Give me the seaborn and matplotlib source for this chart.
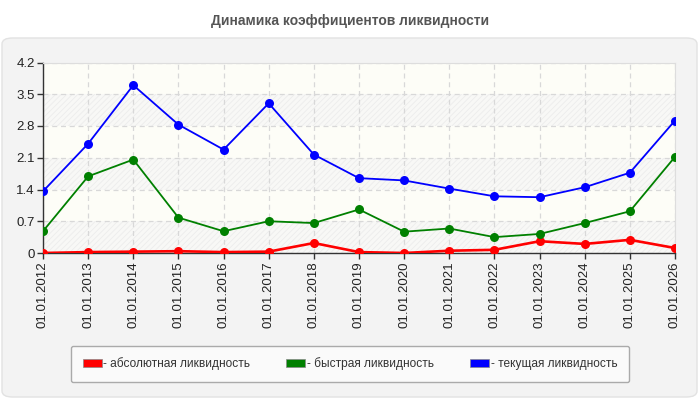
import numpy as np
import pandas as pd
import seaborn as sns
import matplotlib.pyplot as plt
from matplotlib.patches import FancyBboxPatch, Rectangle

# Данные графика
dates = ["01.01.2012", "01.01.2013", "01.01.2014", "01.01.2015", "01.01.2016",
         "01.01.2017", "01.01.2018", "01.01.2019", "01.01.2020", "01.01.2021",
         "01.01.2022", "01.01.2023", "01.01.2024", "01.01.2025", "01.01.2026"]
absolute = [0.0, 0.02, 0.03, 0.04, 0.02, 0.03, 0.22, 0.02, 0.0, 0.05,
            0.07, 0.26, 0.20, 0.29, 0.11]
quick = [0.48, 1.69, 2.06, 0.78, 0.48, 0.70, 0.66, 0.96, 0.47, 0.54,
         0.35, 0.42, 0.66, 0.92, 2.12]
current = [1.36, 2.41, 3.70, 2.83, 2.28, 3.30, 2.17, 1.65, 1.60, 1.42,
           1.25, 1.23, 1.45, 1.77, 2.92]
series_names = ["абсолютная ликвидность", "быстрая ликвидность", "текущая ликвидность"]
colors = ["#ff0000", "#008000", "#0000ff"]
y_ticks = [0, 0.7, 1.4, 2.1, 2.8, 3.5, 4.2]

idx = np.arange(len(dates))
df = pd.concat([
    pd.DataFrame({"i": idx, "v": vals, "s": name})
    for name, vals in zip(series_names, [absolute, quick, current])
])

sns.set_style("white")
plt.rcParams['font.family'] = ['Liberation Sans', 'DejaVu Sans']
plt.rcParams['hatch.linewidth'] = 0.6

fig = plt.figure(figsize=(7, 4), dpi=100)
fig.patch.set_facecolor("white")

# серая подложка со скруглёнными углами
panel = FancyBboxPatch((2 / 700, 3 / 400), 695 / 700, 359 / 400,
                       boxstyle="round,pad=0,rounding_size=0.015",
                       transform=fig.transFigure, facecolor="#f3f3f3",
                       edgecolor="#e2e2e2", linewidth=1, zorder=-5)
fig.patches.append(panel)
fig.text(0.5, 0.948, "Динамика коэффициентов ликвидности", ha="center", va="center",
         fontsize=10, fontweight="bold", color="#555555")

ax = fig.add_axes([43 / 700, 1 - 253 / 400, 632 / 700, 190.5 / 400])
ax.set_zorder(2)
ax.set_facecolor("#fdfdf7")

# чередующиеся полосы фона
for k in range(len(y_ticks) - 1):
    if k % 2 == 0:
        ax.axhspan(y_ticks[k], y_ticks[k + 1], facecolor="#f8f8f6", edgecolor="#ececec",
                   hatch="//////", linewidth=0, zorder=0)

sns.lineplot(data=df, x="i", y="v", hue="s", palette=colors, marker="o",
             markersize=6.5, markeredgewidth=0, linewidth=1.3, ax=ax, legend=False,
             zorder=3)
for line, lw in zip(ax.get_lines(), [1.9, 1.3, 1.3]):
    line.set_linewidth(lw)

ax.set_xlim(0, len(dates) - 1)
ax.set_ylim(0, 4.2)
ax.set_xticks(idx)
ax.set_xticklabels(dates, rotation=90, fontsize=9.5, color="#222222")
ax.set_yticks(y_ticks)
ax.set_yticklabels(["0", "0.7", "1.4", "2.1", "2.8", "3.5", "4.2"], fontsize=9.5,
                   color="#222222")
ax.set_xlabel("")
ax.set_ylabel("")
ax.grid(True, linestyle=(0, (4, 3)), color="#d8d8d8", linewidth=0.9, zorder=1)
ax.set_axisbelow(True)
ax.tick_params(axis="both", direction="out", length=4, width=1, color="#333333",
               bottom=True, left=True, pad=2)
for side in ["top", "right"]:
    ax.spines[side].set_color("#dddddd")
for side in ["left", "bottom"]:
    ax.spines[side].set_color("#333333")
    ax.spines[side].set_linewidth(1)

# легенда
handles = [Rectangle((0, 0), 1, 1, facecolor=c, edgecolor="#888888", linewidth=0.5)
           for c in colors]
leg = fig.legend(handles, ["- " + n for n in series_names], loc="center",
                 bbox_to_anchor=(350 / 700, 1 - 364 / 400), ncol=3, fontsize=8.6,
                 frameon=True, fancybox=True, handlelength=1.6, handleheight=0.7,
                 handletextpad=0.15, columnspacing=3.0, borderpad=1.0,
                 edgecolor="#aaaaaa", facecolor="#fafafa")
leg.get_frame().set_linewidth(1)
leg.get_frame().set_alpha(1)
for t in leg.get_texts():
    t.set_color("#333333")

plt.savefig("out.png", dpi=100, facecolor=fig.get_facecolor())
